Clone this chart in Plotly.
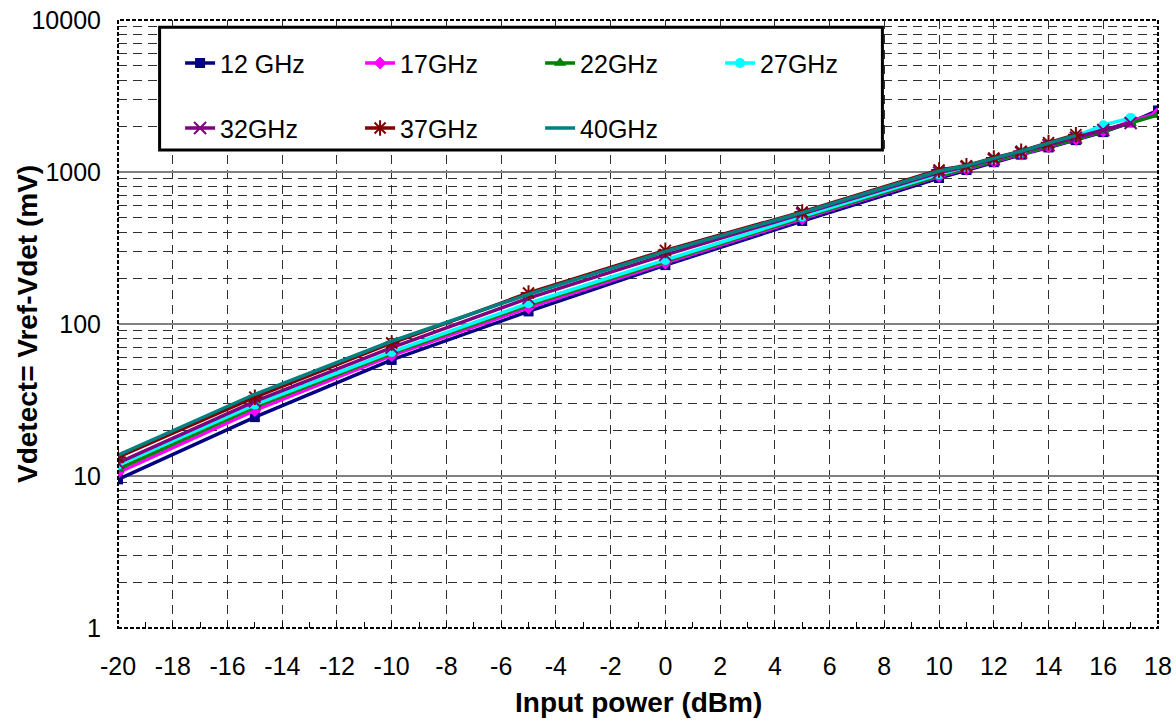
import plotly.graph_objects as go

# ---- data ----
power = [-20, -15, -10, -5, 0, 5, 10, 11, 12, 13, 14, 15, 16, 17, 18]
series_names = ["12 GHz", "17GHz", "22GHz", "27GHz", "32GHz", "37GHz", "40GHz"]
v12 = [9.5, 24.4, 58, 121, 244, 476, 913, 1030, 1160, 1300, 1450, 1620, 1830, 2120, 2540]
v17 = [10.5, 27, 62, 128, 252, 492, 935, 1045, 1175, 1315, 1465, 1640, 1860, 2150, 2450]
v22 = [11.1, 28.5, 64, 133, 258, 502, 945, 1050, 1180, 1320, 1470, 1650, 1860, 2090, 2370]
v27 = [11.8, 29.5, 65.5, 137, 264, 510, 965, 1075, 1210, 1350, 1520, 1720, 2030, 2270]
v32 = [12.2, 31, 70, 148, 285, 530, 990, 1080, 1210, 1340, 1500, 1680, 1890, 2100]
v37 = [13.3, 33, 75, 160, 305, 546, 1030, 1100, 1236, 1370, 1560, 1760]
v40 = [13.7, 34.5, 77, 157, 300, 540, 1015, 1100, 1230, 1370, 1550, 1740]
x_ticks = list(range(-20, 19, 2))
x_ticktext = [str(v) for v in x_ticks]  # ASCII hyphen for negatives
y_ticks = [1, 10, 100, 1000, 10000]
y_ticktext = ["1", "10", "100", "1000", "10000"]

values = [v12, v17, v22, v27, v32, v37, v40]
colors = ["#000080", "#FF00FF", "#008000", "#00FFFF", "#800080", "#800000", "#008080"]
symbols = ["square", "diamond", "triangle-up", "circle", "x-thin-open", "asterisk-open", None]
sizes = [10, 10, 11, 10, 12, 13, 0]
legend_ids = ["legend", "legend", "legend", "legend", "legend2", "legend2", "legend2"]

FONT = "Arial, Liberation Sans, sans-serif"
TICK_SIZE = 25
LEG_SIZE = 25
TITLE_SIZE = 28

fig = go.Figure()
for name, vals, c, s, sz, lg in zip(series_names, values, colors, symbols, sizes, legend_ids):
    xs = power[:len(vals)]
    if s is None:
        fig.add_trace(go.Scatter(x=xs, y=vals, name=name, mode="lines",
                                 line=dict(color=c, width=3.5), legend=lg))
    else:
        mk = dict(symbol=s, size=sz, color=c)
        if "open" in s:
            mk["line"] = dict(color=c, width=2)
        fig.add_trace(go.Scatter(x=xs, y=vals, name=name, mode="lines+markers",
                                 line=dict(color=c, width=3.5), marker=mk, legend=lg))

minor_y = [m * 10 ** d for d in range(0, 4) for m in range(2, 10)]

leg_common = dict(orientation="h", xanchor="left", yanchor="middle",
                  entrywidth=135, entrywidthmode="pixels", bgcolor="rgba(0,0,0,0)",
                  font=dict(family=FONT, size=LEG_SIZE, color="black"), itemclick=False)

fig.update_layout(
    width=1176, height=724,
    margin=dict(l=118, r=18, t=20, b=96, autoexpand=False),
    paper_bgcolor="white", plot_bgcolor="white",
    font=dict(family=FONT, size=TICK_SIZE, color="black"),
    showlegend=True,
    legend=dict(x=0.0597, y=0.929, **leg_common),
    legend2=dict(x=0.0597, y=0.822, **leg_common),
    xaxis=dict(
        range=[-20, 18], tickvals=x_ticks, ticktext=x_ticktext, ticks="inside", ticklen=0,
        showgrid=True, gridcolor="#303030", griddash="9px,6px", gridwidth=1,
        zeroline=False, showline=False, automargin=False, ticklabelstandoff=21,
        minor=dict(dtick=1, tick0=-20, ticks="inside", ticklen=6, tickcolor="black",
                   showgrid=False),
        tickfont=dict(family=FONT, size=TICK_SIZE, color="black"),
    ),
    yaxis=dict(
        type="log", range=[0, 4], tickvals=y_ticks, ticktext=y_ticktext,
        ticks="", showgrid=True, gridcolor="#808080", gridwidth=1.5,
        zeroline=False, showline=False, automargin=False, ticklabelstandoff=16,
        minor=dict(tickmode="array", tickvals=minor_y, showgrid=True,
                   gridcolor="#303030", griddash="9px,6px", gridwidth=1, ticks=""),
        tickfont=dict(family=FONT, size=TICK_SIZE, color="black"),
    ),
    annotations=[
        dict(text="<b>Input power (dBm)</b>", xref="paper", yref="paper",
             x=0.5, y=-0.123, xanchor="center", yanchor="middle", showarrow=False,
             font=dict(family=FONT, size=TITLE_SIZE, color="black")),
        dict(text="<b>Vdetect= Vref-Vdet (mV)</b>", xref="paper", yref="paper",
             x=-0.0875, y=0.5, xanchor="center", yanchor="middle", showarrow=False,
             textangle=-90, font=dict(family=FONT, size=TITLE_SIZE, color="black")),
    ],
    shapes=[
        dict(type="rect", xref="paper", yref="paper", x0=0, x1=1, y0=0, y1=1,
             line=dict(color="black", width=2, dash="4px,2px"), layer="above"),
        dict(type="rect", xref="paper", yref="paper", x0=0.040, x1=0.735,
             y0=0.786, y1=0.988, line=dict(color="black", width=3),
             fillcolor="white", layer="above"),
    ],
)

fig.write_html("out.html", config={"displayModeBar": False},
               post_script="document.body.style.margin='0';document.body.style.overflow='hidden';")
